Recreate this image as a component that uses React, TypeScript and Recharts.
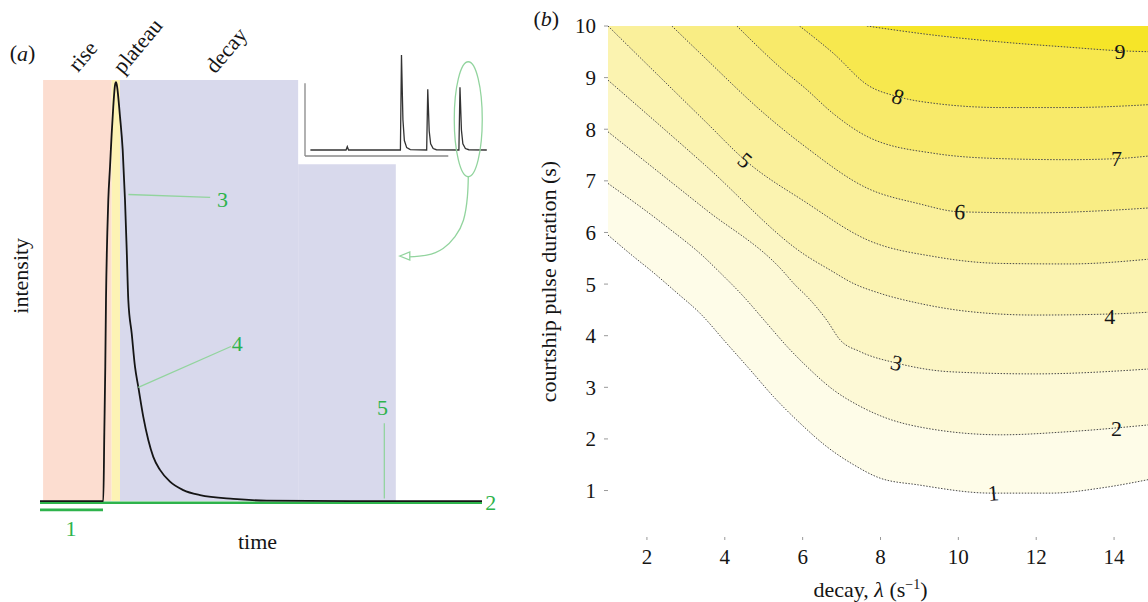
import React from "react";
import {
  ComposedChart,
  Line,
  Area,
  XAxis,
  YAxis,
  ReferenceArea,
  ReferenceLine,
  ReferenceDot,
} from "recharts";

const SERIF = "'Liberation Serif', 'Times New Roman', serif";
const INK = "#151515";
const GREEN = "#2eb34c";
const LIGHT_GREEN = "#92d49e";

/* ---------- panel (a): one pulse, arbitrary time units, normalised intensity ---------- */
const pulseTime = [0, 14.32, 14.55, 14.77, 14.93, 15.23, 15.45, 15.84, 16.22, 16.58, 16.97, 17.19, 17.35, 18.1, 18.71, 19.23, 19.62, 19.98, 20.75, 21.49, 22.24, 23.37, 24.5, 25.63, 27.15, 29.41, 32.42, 36.2, 43.73, 51.3, 70, 100];
const pulseIntensity = [0, 0, 0.162, 0.319, 0.477, 0.637, 0.715, 0.794, 0.873, 0.937, 0.988, 0.995, 0.99, 0.913, 0.834, 0.715, 0.596, 0.477, 0.398, 0.319, 0.271, 0.2, 0.145, 0.105, 0.074, 0.046, 0.026, 0.014, 0.005, 0.001, 0, 0];

const phaseNames = ["rise", "plateau", "decay"];
const phaseStart = [0.7, 16.2, 18.1];
const phaseEnd = [16.2, 18.1, 58.4];
const phaseFill = ["#fcddd0", "#fdf3b4", "#d8d9ec"];
const phaseNameT = [9.62, 22.06, 42.08];
const phaseNameI = [1.057, 1.081, 1.071];
const decayTailEnd = 80.5;
const decayTailTop = 0.8;

const floorSpan = [0, 100];
const floorLevel = -0.004;
const preSpan = [0, 14.25];
const preLevel = -0.021;

const markerNames = ["1", "2", "3", "4", "5"];
const markerT = [7.0, 102.0, 41.3, 44.6, 77.5];
const markerI = [-0.065, -0.003, 0.715, 0.375, 0.223];
const leaderFromT = [20.0, 22.24, 77.9];
const leaderFromI = [0.728, 0.27, 0.185];
const leaderToT = [38.5, 43.2, 77.9];
const leaderToI = [0.721, 0.367, 0.006];

const arrowT = [96.9, 96.7, 95.8, 93.9, 91.2, 87.5, 83.4];
const arrowI = [0.77, 0.723, 0.667, 0.628, 0.6, 0.584, 0.58];
const arrowTipT = 81.4;
const arrowTipI = 0.582;

// inset: a short pulse train
const insetT = [3, 22.8, 23.5, 24.2, 53.0, 53.6, 54.4, 55.2, 56.5, 58.5, 67.6, 68.2, 69.0, 69.8, 71.2, 73, 85.5, 86.1, 86.9, 87.7, 89.1, 91, 101];
const insetI = [0, 0, 0.035, 0, 0, 1, 0.32, 0.1, 0.025, 0.005, 0, 0.64, 0.2, 0.065, 0.015, 0.003, 0, 0.66, 0.21, 0.065, 0.015, 0.003, 0];
const insetFloor = -0.063;
const insetAxisTop = 0.702;
const insetAxisEnd = 79.6;
const insetZoomT = 90.7;
const insetZoomI = 0.324;

/* ---------- panel (b): contour map, decay vs pulse duration ---------- */
const contourLevels = ["1", "2", "3", "4", "5", "6", "7", "8", "9"];
const contour1 = [[1, 5.95], [1.66, 5.53], [2.09, 5.27], [2.77, 4.83], [3.37, 4.43], [4.05, 3.85], [4.65, 3.34], [5.25, 2.82], [5.94, 2.3], [6.62, 1.85], [7.31, 1.5], [7.99, 1.24], [8.97, 1.11], [10.85, 0.95], [12.39, 0.95], [13.67, 1.05], [15, 1.23]];
const contour2 = [[1, 6.95], [2.51, 6.11], [3.5, 5.5], [3.8, 5.28], [4.48, 4.76], [5.08, 4.24], [5.6, 3.79], [6.11, 3.4], [6.79, 2.95], [7.48, 2.63], [7.99, 2.45], [9.4, 2.18], [11.1, 2.08], [12.82, 2.14], [15, 2.28]];
const contour3 = [[1, 7.95], [3.5, 6.45], [5.47, 5.27], [5.81, 4.98], [6.11, 4.76], [6.62, 4.3], [6.96, 3.92], [7.48, 3.69], [8.41, 3.47], [9.82, 3.3], [11.96, 3.26], [15, 3.36]];
const contour4 = [[1, 8.95], [3.5, 7.3], [6.07, 5.56], [6.71, 5.27], [7.31, 5.01], [7.99, 4.82], [8.97, 4.63], [10.25, 4.47], [11.96, 4.4], [13.9, 4.42], [15, 4.46]];
const contour5 = [[1, 10], [3.5, 8.15], [4.52, 7.4], [6.07, 6.59], [7.68, 5.85], [9.4, 5.53], [11.1, 5.4], [12.82, 5.39], [15, 5.49]];
const contour6 = [[2.64, 10], [3.37, 9.47], [5.08, 8.26], [6.07, 7.66], [7.68, 6.85], [8.97, 6.56], [10.04, 6.4], [11.96, 6.38], [13.67, 6.42], [15, 6.48]];
const contour7 = [[4.31, 10], [5.51, 9.14], [6.07, 8.79], [6.79, 8.3], [7.68, 7.85], [9.4, 7.53], [11.1, 7.43], [12.82, 7.41], [14.06, 7.43], [15, 7.49]];
const contour8 = [[5.92, 10], [6.79, 9.47], [7.68, 8.85], [8.45, 8.63], [9.4, 8.5], [11.1, 8.42], [12.82, 8.42], [15, 8.48]];
const contour9 = [[7.65, 10], [9.4, 9.82], [11.1, 9.69], [12.82, 9.59], [14.15, 9.52], [15, 9.5]];
const contours = [contour1, contour2, contour3, contour4, contour5, contour6, contour7, contour8, contour9];
const bandFill = ["#fefce8", "#fdf9d6", "#fcf6c4", "#fbf3b0", "#faf09b", "#f9ed84", "#f8ea6a", "#f7e84e", "#f6e528"];

const contourLabelX = [10.9, 14.06, 8.41, 13.89, 4.52, 10.04, 14.06, 8.45, 14.15];
const contourLabelY = [0.95, 2.21, 3.47, 4.37, 7.4, 6.4, 7.43, 8.63, 9.5];
const contourLabelTilt = [-5, 0, 15, 0, 40, 5, 0, 20, 0];

const decayTicks = [2, 4, 6, 8, 10, 12, 14];
const durationTicks = [1, 2, 3, 4, 5, 6, 7, 8, 9, 10];

const textMark =
  (content: React.ReactNode, size = 22, color = INK, angle = 0) =>
  (p: any) =>
    (
      <text
        x={p.cx}
        y={p.cy}
        textAnchor="middle"
        dominantBaseline="central"
        transform={angle ? `rotate(${angle} ${p.cx} ${p.cy})` : undefined}
        fontFamily={SERIF}
        fontSize={size}
        fill={color}
      >
        {content}
      </text>
    );

const DecayLabel = (props: any) => {
  const vb = props.viewBox;
  return (
    <text
      x={vb.x + vb.width / 2 - 10}
      y={vb.y + vb.height - 0.5}
      textAnchor="middle"
      fontFamily={SERIF}
      fontSize={22}
      fill={INK}
    >
      decay, <tspan fontStyle="italic">λ</tspan> (s
      <tspan dy={-8} fontSize={14}>
        −1
      </tspan>
      <tspan dy={8}>)</tspan>
    </text>
  );
};

export default function App() {
  const pulse = pulseTime.map((t, k) => ({ t, i: pulseIntensity[k] }));
  const floor = floorSpan.map((t) => ({ t, i: floorLevel }));
  const pre = preSpan.map((t) => ({ t, i: preLevel }));
  const arrow = arrowT.map((t, k) => ({ t, i: arrowI[k] }));
  const inset = insetT.map((t, k) => ({ t, i: insetI[k] }));
  const contourData = contours.map((c) => c.map(([x, y]) => ({ x, y })));

  return (
    <div
      style={{
        position: "absolute",
        left: 0,
        top: 0,
        width: 1148,
        height: 602,
        overflow: "hidden",
        background: "#fff",
        fontFamily: SERIF,
      }}
    >
      {/* (a) pulse schematic */}
      <div style={{ position: "absolute", left: 0, top: 0 }}>
        <ComposedChart width={520} height={602} margin={{ top: 80, right: 38, bottom: 75.7, left: 40 }}>
          <XAxis type="number" dataKey="t" domain={[0, 100]} hide />
          <YAxis type="number" domain={[-0.06, 1]} hide />
          {phaseNames.map((n, k) => (
            <ReferenceArea
              key={n}
              x1={phaseStart[k]}
              x2={phaseEnd[k]}
              y1={0}
              y2={1}
              fill={phaseFill[k]}
              fillOpacity={1}
              stroke="none"
              ifOverflow="visible"
            />
          ))}
          <ReferenceArea
            x1={phaseEnd[2]}
            x2={decayTailEnd}
            y1={0}
            y2={decayTailTop}
            fill={phaseFill[2]}
            fillOpacity={1}
            stroke="none"
            ifOverflow="visible"
          />
          <Line data={floor} dataKey="i" stroke={GREEN} strokeWidth={2.6} dot={false} isAnimationActive={false} />
          <Line data={pre} dataKey="i" stroke={GREEN} strokeWidth={2.6} dot={false} isAnimationActive={false} />
          <Line data={pulse} dataKey="i" type="monotone" stroke={INK} strokeWidth={1.8} dot={false} isAnimationActive={false} />
          {leaderFromT.map((t, k) => (
            <ReferenceLine
              key={`ld${k}`}
              segment={[
                { x: t, y: leaderFromI[k] },
                { x: leaderToT[k], y: leaderToI[k] },
              ]}
              stroke={LIGHT_GREEN}
              strokeWidth={1.3}
              ifOverflow="visible"
            />
          ))}
          <Line data={arrow} dataKey="i" type="natural" stroke={LIGHT_GREEN} strokeWidth={1.3} dot={false} isAnimationActive={false} />
          <ReferenceDot
            x={arrowTipT}
            y={arrowTipI}
            ifOverflow="visible"
            shape={(p: any) => (
              <polygon
                points={`${p.cx},${p.cy} ${p.cx + 10},${p.cy - 4} ${p.cx + 10},${p.cy + 4}`}
                fill="#fff"
                stroke={LIGHT_GREEN}
                strokeWidth={1.3}
              />
            )}
          />
          {markerNames.map((m, k) => (
            <ReferenceDot key={`mk${m}`} x={markerT[k]} y={markerI[k]} ifOverflow="visible" shape={textMark(m, 22, GREEN)} />
          ))}
          {phaseNames.map((n, k) => (
            <ReferenceDot key={`pn${n}`} x={phaseNameT[k]} y={phaseNameI[k]} ifOverflow="visible" shape={textMark(n, 22, INK, -50)} />
          ))}
          <ReferenceDot
            x={-3.96}
            y={1.065}
            ifOverflow="visible"
            shape={textMark(
              <>
                (<tspan fontStyle="italic">a</tspan>)
              </>,
            )}
          />
          <ReferenceDot x={-4.3} y={0.535} ifOverflow="visible" shape={textMark("intensity", 22, INK, -90)} />
          <ReferenceDot x={49.2} y={-0.095} ifOverflow="visible" shape={textMark("time", 22)} />
        </ComposedChart>
      </div>

      {/* (a) inset: pulse train */}
      <div style={{ position: "absolute", left: 300, top: 40 }}>
        <ComposedChart width={200} height={150} margin={{ top: 15, right: 11.4, bottom: 34, left: 5 }}>
          <XAxis type="number" dataKey="t" domain={[0, 102]} hide />
          <YAxis type="number" domain={[insetFloor, 1]} hide />
          <ReferenceLine
            segment={[
              { x: 0, y: insetFloor },
              { x: 0, y: insetAxisTop },
            ]}
            stroke="#888"
            strokeWidth={1.3}
            ifOverflow="visible"
          />
          <ReferenceLine
            segment={[
              { x: 0, y: insetFloor },
              { x: insetAxisEnd, y: insetFloor },
            ]}
            stroke="#888"
            strokeWidth={1.3}
            ifOverflow="visible"
          />
          <Line data={inset} dataKey="i" type="linear" stroke="#333" strokeWidth={1.3} dot={false} isAnimationActive={false} />
          <ReferenceDot
            x={insetZoomT}
            y={insetZoomI}
            ifOverflow="visible"
            shape={(p: any) => (
              <ellipse cx={p.cx} cy={p.cy} rx={14} ry={57.5} fill="none" stroke={LIGHT_GREEN} strokeWidth={1.3} />
            )}
          />
        </ComposedChart>
      </div>

      {/* (b) contour map */}
      <div style={{ position: "absolute", left: 530, top: 0 }}>
        <ComposedChart width={625} height={602} margin={{ top: 26, right: 2, bottom: 5, left: 0 }}>
          <XAxis
            type="number"
            dataKey="x"
            domain={[1, 15]}
            ticks={decayTicks}
            allowDataOverflow
            height={60}
            axisLine={false}
            tickSize={3}
            tickMargin={9}
            tickLine={{ stroke: "#999" }}
            tick={{ fontFamily: SERIF, fontSize: 21, fill: INK }}
            label={DecayLabel}
          />
          <YAxis
            type="number"
            domain={[0.1, 10]}
            ticks={durationTicks}
            allowDataOverflow
            width={78}
            axisLine={false}
            tickSize={4}
            tickMargin={8}
            tickLine={{ stroke: "#999" }}
            tick={{ fontFamily: SERIF, fontSize: 21, fill: INK }}
            label={{
              value: "courtship pulse duration (s)",
              angle: -90,
              position: "center",
              dx: -21,
              style: { fontFamily: SERIF, fontSize: 22, fill: INK },
            }}
          />
          {contourData.map((d, k) => (
            <Area
              key={`c${contourLevels[k]}`}
              data={d}
              dataKey="y"
              baseValue={10}
              type="monotone"
              fill={bandFill[k]}
              fillOpacity={1}
              stroke="#4a4a4a"
              strokeWidth={1}
              strokeDasharray="1.5 1.5"
              dot={false}
              activeDot={false}
              isAnimationActive={false}
            />
          ))}
          {contourLevels.map((lv, k) => (
            <ReferenceDot
              key={`cl${lv}`}
              x={contourLabelX[k]}
              y={contourLabelY[k]}
              ifOverflow="visible"
              shape={textMark(lv, 22, INK, contourLabelTilt[k])}
            />
          ))}
          <ReferenceDot
            x={-0.585}
            y={10.15}
            ifOverflow="visible"
            shape={textMark(
              <>
                (<tspan fontStyle="italic">b</tspan>)
              </>,
            )}
          />
        </ComposedChart>
      </div>
    </div>
  );
}
